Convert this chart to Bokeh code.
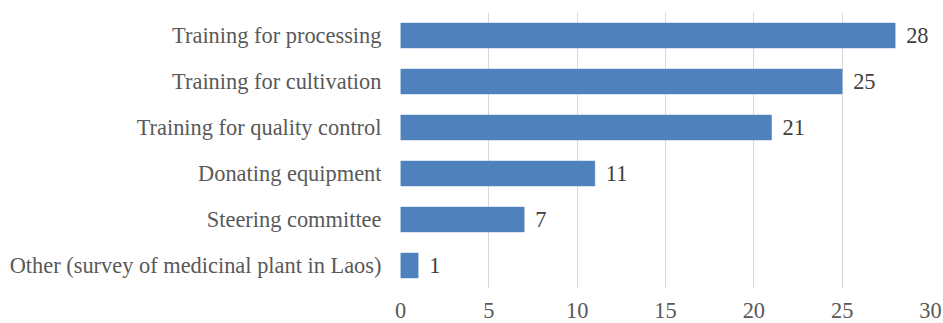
from bokeh.plotting import figure
from bokeh.models import ColumnDataSource, FactorRange, Range1d, FixedTicker
from bokeh.core.properties import value
from bokeh.embed import file_html
from bokeh.resources import INLINE

categories = [
    "Training for processing",
    "Training for cultivation",
    "Training for quality control",
    "Donating equipment",
    "Steering committee",
    "Other (survey of medicinal plant in Laos)",
]
counts = [28, 25, 21, 11, 7, 1]
x_ticks = [0, 5, 10, 15, 20, 25, 30]

FONT = "Liberation Serif"
AX_TXT = "#595959"
LBL_TXT = "#404040"
FS = "22.4px"

src = ColumnDataSource(dict(cat=categories, val=counts, lab=[str(v) for v in counts]))

p = figure(width=943, height=323, output_backend="svg", toolbar_location=None,
           y_range=FactorRange(factors=list(reversed(categories)), range_padding=0),
           x_range=Range1d(0, 30))
p.min_border_left = 400
p.min_border_right = 13
p.min_border_top = 12
p.min_border_bottom = 35
p.outline_line_color = None
p.background_fill_color = "white"
p.border_fill_color = "white"

p.hbar(y="cat", right="val", left=0, height=0.54, source=src,
       fill_color="#4F81BD", line_color="#4F81BD", line_width=0.5)
p.text(x="val", y="cat", text="lab", source=src, x_offset=11,
       text_align="left", text_baseline="middle",
       text_font=value(FONT), text_font_size=FS, text_color=LBL_TXT)

p.xaxis.ticker = FixedTicker(ticks=x_ticks)
p.xaxis.axis_line_color = None
p.xaxis.major_tick_line_color = None
p.xaxis.minor_tick_line_color = None
p.xaxis.major_label_text_font = FONT
p.xaxis.major_label_text_font_size = FS
p.xaxis.major_label_text_color = AX_TXT
p.xaxis.major_label_standoff = 8

p.yaxis.axis_line_color = None
p.yaxis.major_tick_line_color = None
p.yaxis.minor_tick_line_color = None
p.yaxis.major_label_text_font = FONT
p.yaxis.major_label_text_font_size = FS
p.yaxis.major_label_text_color = AX_TXT
p.yaxis.major_label_standoff = 13

p.xgrid.grid_line_color = "#D9D9D9"
p.xgrid.grid_line_width = 1
p.ygrid.grid_line_color = None

open("out.html", "w").write(file_html(p, INLINE))
